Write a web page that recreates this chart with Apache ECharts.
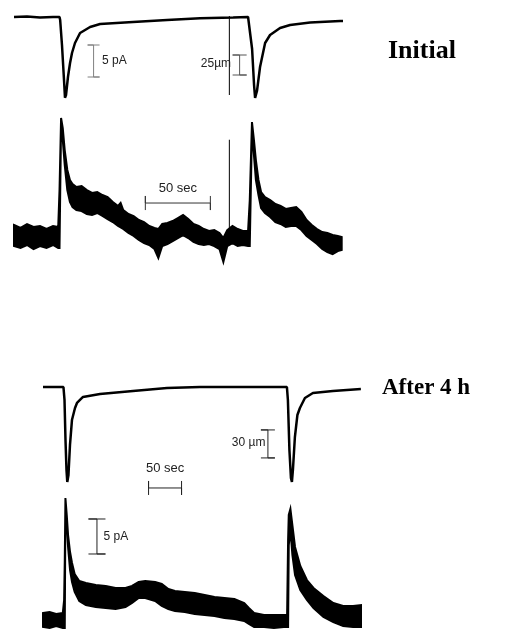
<!DOCTYPE html>
<html><head><meta charset="utf-8">
<script src="https://cdn.jsdelivr.net/npm/echarts@6/dist/echarts.min.js"></script>
<style>html,body{margin:0;padding:0;background:#fff}#c{width:511px;height:629px}</style>
</head><body><div id="c"></div>
<script>
// ===== Panel 1: "Initial" =====
// length trace (µm, relative to rest), time in s
const p1LenTime = [0,10,20,30,35,35.5,36.9,38.5,39.2,40,41.5,43.1,44.6,46.9,50.8,58.5,66.2,91.5,117.7,143.1,168.5,180,181.5,183.1,184.6,185.4,186.9,189.2,193.1,196.9,204.6,212.3,227.7,250.8,253];
const p1Len = [0,0.5,-0.5,0,0,-3.75,-35,-80,-101,-97.5,-75,-57.5,-45,-32.5,-20,-12.5,-8.75,-6.25,-3.75,-1.5,-0.5,0,0,-40,-85,-101,-92,-62.5,-32.5,-22.5,-13.75,-10,-7,-5,-5];
// current trace (pA): noisy band envelope
const p1CurTime = [0,5,10,15,20,25,30,34,35,36.2,37.5,39,41,43,45,48,52,56,60,64,68,72,76,80,82,84,88,92,96,100,104,108,111,114,118,122,126,130,134,138,142,146,150,154,158,161,164,168,172,176,180,181.3,183,184.5,186,188,190,193,197,201,205,209,213,217,221,225,229,233,237,241,245,249,252];
const p1CurUpper = [1.88,1.41,2.03,1.56,1.72,1.25,1.72,1.56,7.34,18.59,17.03,13.59,10.47,8.91,8.28,7.81,7.97,7.34,6.88,7.03,6.56,6.25,5.47,4.84,5.31,4.22,3.59,3.28,2.66,2.34,1.72,1.41,1.25,2.03,2.19,2.5,2.97,3.44,2.81,2.03,1.72,1.25,0.94,1.09,0.63,-0.16,1.09,1.72,1.25,0.94,0.94,5.78,17.97,15.16,12.03,8.91,7.03,6.25,5.78,5.16,4.84,4.38,4.53,4.69,3.91,2.66,1.88,1.25,0.78,0.63,0.31,0.16,0];
const p1CurLower = [-1.41,-1.72,-1.25,-1.88,-1.41,-1.72,-1.25,-1.72,-1.72,17.5,15.16,11.25,7.34,5.47,4.69,4.22,4.06,3.59,3.44,3.75,3.28,2.81,2.34,1.72,1.5,1.25,0.63,0.16,-0.47,-0.94,-1.25,-1.88,-3.28,-1.41,-1.09,-0.63,-0.16,0.31,-0.16,-0.78,-1.09,-1.25,-1.09,-1.41,-1.88,-3.91,-1.41,-0.94,-1.41,-1.25,-1.41,-1.41,16.72,12.81,8.91,6.56,4.53,3.75,3.13,2.34,2.03,1.56,1.72,1.72,1.09,0.16,-0.47,-1.09,-1.88,-2.34,-2.66,-2.19,-2.03];
// stimulus artifact
const p1ArtTime = [165.6, 165.6];
const p1LenArt = [1.25, -97.5];
const p1CurArt = [1.4, 15.2];

// ===== Panel 2: "After 4 h" =====
const p2LenTime = [0,18,31,32.6,34.1,35.6,36.8,38.6,40.9,43.9,48.5,51.5,60.6,86.4,136.4,187.9,237.9,369.7,371.2,373.5,375.8,377.3,378.8,381.8,385.6,389.4,397,409.1,439.4,481.8];
const p2Len = [0,0,0,-13.9,-56.8,-88.9,-101.8,-94.3,-62.1,-35.4,-22.5,-17.1,-10.7,-7.5,-4.3,-1.1,0,0,-13.9,-67.5,-97.5,-101.8,-88.9,-53.6,-30,-22.5,-11.8,-6.4,-4.3,-2.1];
const p2CurTime = [0,10,20,30,32,33,34,36,38,41,44,48,55,65,80,95,110,125,135,145,155,170,180,190,200,215,230,245,260,275,290,305,312,320,335,350,365,370,371.5,372.5,375,378,382,390,400,410,425,440,455,470,482];
const p2CurUpper = [1.0,1.14,0.86,1.0,2.86,8.57,17.43,15.0,12.14,9.71,8.14,6.57,5.57,5.29,5.0,4.86,4.57,4.57,4.86,5.43,5.57,5.43,5.14,4.43,4.14,4.0,3.86,3.57,3.29,3.14,3.0,2.43,1.71,1.0,0.71,0.71,0.71,0.71,11.43,15.0,15.86,13.57,10.43,7.71,5.71,4.57,3.43,2.43,2.0,2.0,2.14];
const p2CurLower = [-1.0,-1.14,-0.86,-1.14,-1.14,-1.14,16.43,13.57,10.43,7.14,5.43,4.0,2.71,2.14,1.86,1.71,1.57,1.86,2.43,3.14,3.14,2.71,2.0,1.57,1.29,1.14,0.86,0.71,0.57,0.29,0.14,-0.14,-0.57,-1.0,-1.0,-1.14,-1.0,-1.0,-1.0,10.71,12.86,9.29,6.43,4.29,2.86,1.71,0.43,-0.29,-0.86,-1.0,-1.0];

// ===== scale bars: [position, from, to, capHalf] =====
const p1BarPA = [61.2, 25, 30, 4.6];       // time s, pA, pA, s
const p1BarUM = [173.5, -72.5, -47.5, 5.4]; // time s, µm, µm, s
const p1BarSec = [5.31, 101, 151, 1.1];    // pA, s, s, pA
const p2BarUM = [340.9, -76, -46, 10.6];
const p2BarPA = [81.8, 9.43, 14.43, 12.9];
const p2BarSec = [18.86, 160, 210, 1.0];
const barLabels = ['5 pA', '25µm', '50 sec', '30 µm', '5 pA', '50 sec'];
const panelTitles = ['Initial', 'After 4 h'];

// ---- axis scaling (units per pixel) ----
const um1 = 1.25, pA1 = 5 / 32, um2 = 30 / 28, pA2 = 1 / 7;
const g1 = {left: 14, top: 5, width: 329, height: 265};
const g2 = {left: 43, top: 375, width: 318, height: 254};

const zip = (a, b) => a.map((v, i) => [v, b[i]]);
function vBar(b) { const [t, y1, y2, c] = b; return [[t - c, y1], [t + c, y1], [t, y1], [t, y2], [t - c, y2], [t + c, y2]]; }
function hBar(b) { const [y, t1, t2, c] = b; return [[t1, y - c], [t1, y + c], [t1, y], [t2, y], [t2, y - c], [t2, y + c]]; }

function band(ax, times, up, lo) {
  return {
    type: 'custom', xAxisIndex: ax, yAxisIndex: ax, silent: true,
    data: [[times[0], up[0], lo[0]]],
    renderItem: function (params, api) {
      const pts = [];
      for (let i = 0; i < times.length; i++) pts.push(api.coord([times[i], up[i]]));
      for (let i = times.length - 1; i >= 0; i--) pts.push(api.coord([times[i], lo[i]]));
      return {type: 'polygon', shape: {points: pts}, style: {fill: '#000', stroke: '#000', lineWidth: 2, lineJoin: 'miter'}};
    }
  };
}
function trace(ax, data, w) {
  return {type: 'line', xAxisIndex: ax, yAxisIndex: ax, data: data, showSymbol: false, symbol: 'none',
    lineStyle: {color: '#000', width: w}, silent: true, animation: false};
}
function bar(ax, data, color, label, coord, pos, dist, fs) {
  return {type: 'line', xAxisIndex: ax, yAxisIndex: ax, data: data, symbol: 'none', silent: true,
    lineStyle: {color: color, width: 1},
    markPoint: {symbol: 'rect', symbolSize: 1, itemStyle: {color: 'rgba(0,0,0,0)'}, silent: true,
      data: [{coord: coord, label: {show: true, formatter: label, position: pos, distance: dist,
        color: '#222', fontFamily: 'Liberation Sans', fontSize: fs}}]}};
}

const chart = echarts.init(document.getElementById('c'), null, {renderer: 'canvas'});
chart.setOption({
  animation: false,
  backgroundColor: '#fff',
  grid: [g1, g1, g2, g2],
  xAxis: [
    {gridIndex: 0, type: 'value', min: 0, max: 253, show: false},
    {gridIndex: 1, type: 'value', min: 0, max: 253, show: false},
    {gridIndex: 2, type: 'value', min: 0, max: 482, show: false},
    {gridIndex: 3, type: 'value', min: 0, max: 482, show: false}
  ],
  yAxis: [
    {gridIndex: 0, type: 'value', max: 12 * um1, min: 12 * um1 - g1.height * um1, show: false},
    {gridIndex: 1, type: 'value', max: 232 * pA1, min: 232 * pA1 - g1.height * pA1, show: false},
    {gridIndex: 2, type: 'value', max: 12 * um2, min: 12 * um2 - g2.height * um2, show: false},
    {gridIndex: 3, type: 'value', max: 245 * pA2, min: 245 * pA2 - g2.height * pA2, show: false}
  ],
  graphic: [
    {type: 'text', left: 388, top: 38, style: {text: panelTitles[0], font: 'bold 26px "Liberation Serif"', fill: '#000'}},
    {type: 'text', left: 382, top: 377, style: {text: panelTitles[1], font: 'bold 23px "Liberation Serif"', fill: '#000'}}
  ],
  series: [
    trace(0, zip(p1LenTime, p1Len), 2.5),
    trace(0, zip(p1ArtTime, p1LenArt), 1),
    band(1, p1CurTime, p1CurUpper, p1CurLower),
    trace(1, zip(p1ArtTime, p1CurArt), 1),
    trace(2, zip(p2LenTime, p2Len), 2.5),
    band(3, p2CurTime, p2CurUpper, p2CurLower),
    bar(1, vBar(p1BarPA), '#808080', barLabels[0], [p1BarPA[0], 27.5], 'right', 8, 12),
    bar(0, vBar(p1BarUM), '#555', barLabels[1], [p1BarUM[0], -58], 'left', 8, 12),
    bar(1, hBar(p1BarSec), '#333', barLabels[2], [126, 7.6], 'inside', 0, 13),
    bar(2, vBar(p2BarUM), '#222', barLabels[3], [p2BarUM[0], -60], 'left', 2, 12),
    bar(3, vBar(p2BarPA), '#222', barLabels[4], [p2BarPA[0], 11.86], 'right', 6, 12),
    bar(3, hBar(p2BarSec), '#222', barLabels[5], [185, 21.6], 'inside', 0, 13)
  ]
});
</script></body></html>
